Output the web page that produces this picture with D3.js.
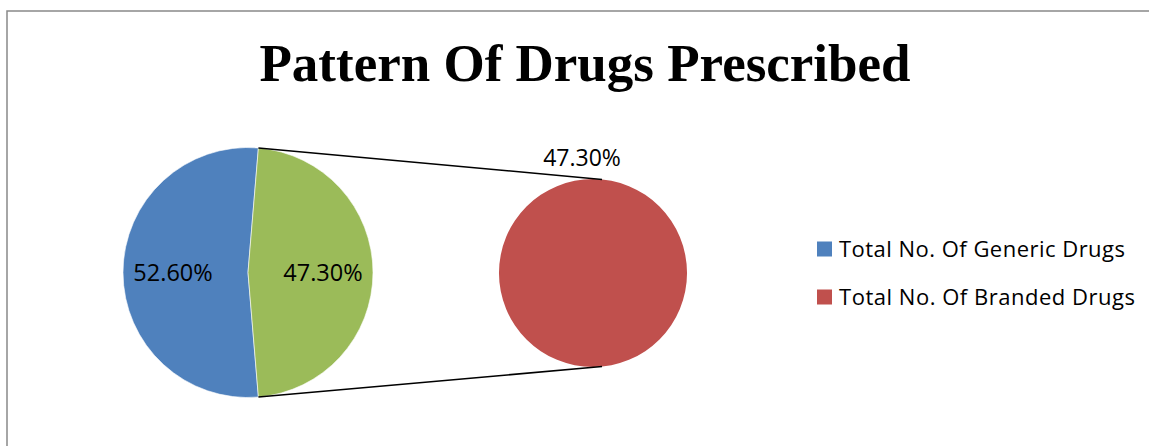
<!DOCTYPE html>
<html><head><meta charset="utf-8">
<script src="https://cdn.jsdelivr.net/npm/d3@7"></script>
<style>html,body{margin:0;padding:0;background:#fff;}svg{display:block;}</style>
</head><body>
<svg id="chart" width="1149" height="446"></svg>
<script>
const title = "Pattern Of Drugs Prescribed";
const categories = ["Total No. Of Generic Drugs", "Total No. Of Branded Drugs"];
const values = [52.6, 47.3];
const valueLabels = ["52.60%", "47.30%"];
const secondaryValues = [47.3];
const secondaryLabels = ["47.30%"];
const colors = ["#4F81BD", "#C0504D"];
const pieColors = ["#4F81BD", "#9BBB59"];

const svg = d3.select("#chart");
svg.append("rect").attr("x", 7).attr("y", 11).attr("width", 1160).attr("height", 460)
  .attr("fill", "#fff").attr("stroke", "#898989").attr("stroke-width", 1.5);

svg.append("text").attr("x", 585).attr("y", 81).attr("text-anchor", "middle")
  .attr("font-family", "Liberation Serif, Times New Roman, serif").attr("font-weight", "bold")
  .attr("font-size", 53).attr("fill", "#000").text(title);

const total = d3.sum(values);
const otherAngle = values[1] / total * 2 * Math.PI;
const start = Math.PI / 2 + otherAngle / 2;
const pie = d3.pie().sort(null).startAngle(start).endAngle(start + 2 * Math.PI);
const arcs = pie(values);

const c1 = [248, 272.5], r1 = 125;
const c2 = [593, 273], r2 = 94;
const arc1 = d3.arc().innerRadius(0).outerRadius(r1);
const g1 = svg.append("g").attr("transform", `translate(${c1})`);
g1.selectAll("path").data(arcs).join("path")
  .attr("d", arc1).attr("fill", (d, i) => pieColors[i])
  .attr("stroke", "#fff").attr("stroke-width", 0.6);

const labelArc = d3.arc().innerRadius(r1 * 0.6).outerRadius(r1 * 0.6);
g1.selectAll("text").data(arcs).join("text")
  .attr("x", d => labelArc.centroid(d)[0]).attr("y", d => labelArc.centroid(d)[1])
  .attr("dy", "0.35em").attr("text-anchor", "middle")
  .attr("font-family", "Open Sans, sans-serif").attr("font-size", 23.5).attr("fill", "#000")
  .text((d, i) => valueLabels[i]);

// secondary pie
const pie2 = d3.pie().sort(null);
const arcs2 = pie2(secondaryValues);
const arc2 = d3.arc().innerRadius(0).outerRadius(r2);
const g2 = svg.append("g").attr("transform", `translate(${c2})`);
g2.selectAll("path").data(arcs2).join("path")
  .attr("d", arc2).attr("fill", colors[1]);

// connector lines
const topA = arcs[1].startAngle, botA = arcs[1].endAngle;
const p1t = d3.pointRadial(topA, r1), p1b = d3.pointRadial(botA, r1);
const ang2 = 0.096;
const p2t = d3.pointRadial(ang2, r2), p2b = d3.pointRadial(Math.PI - ang2, r2);
[[p1t, p2t], [p1b, p2b]].forEach(([a, b]) => {
  svg.append("line")
    .attr("x1", c1[0] + a[0]).attr("y1", c1[1] + a[1])
    .attr("x2", c2[0] + b[0]).attr("y2", c2[1] + b[1])
    .attr("stroke", "#000").attr("stroke-width", 1.6);
});

svg.append("text").attr("x", 582).attr("y", 166).attr("text-anchor", "middle")
  .attr("font-family", "Open Sans, sans-serif").attr("font-size", 23).attr("fill", "#000")
  .text(secondaryLabels[0]);

// legend
const lg = svg.append("g");
const legendWidths = [286, 296];
categories.forEach((c, i) => {
  const y = 249 + i * 48;
  lg.append("rect").attr("x", 817).attr("y", y - 7.5).attr("width", 15).attr("height", 15).attr("fill", colors[i]);
  lg.append("text").attr("x", 839).attr("y", y).attr("dy", "0.35em")
    .attr("font-family", "Open Sans, sans-serif").attr("font-size", 22)
    .attr("textLength", legendWidths[i]).attr("lengthAdjust", "spacing")
    .attr("fill", "#000").text(c);
});
</script>
</body></html>
